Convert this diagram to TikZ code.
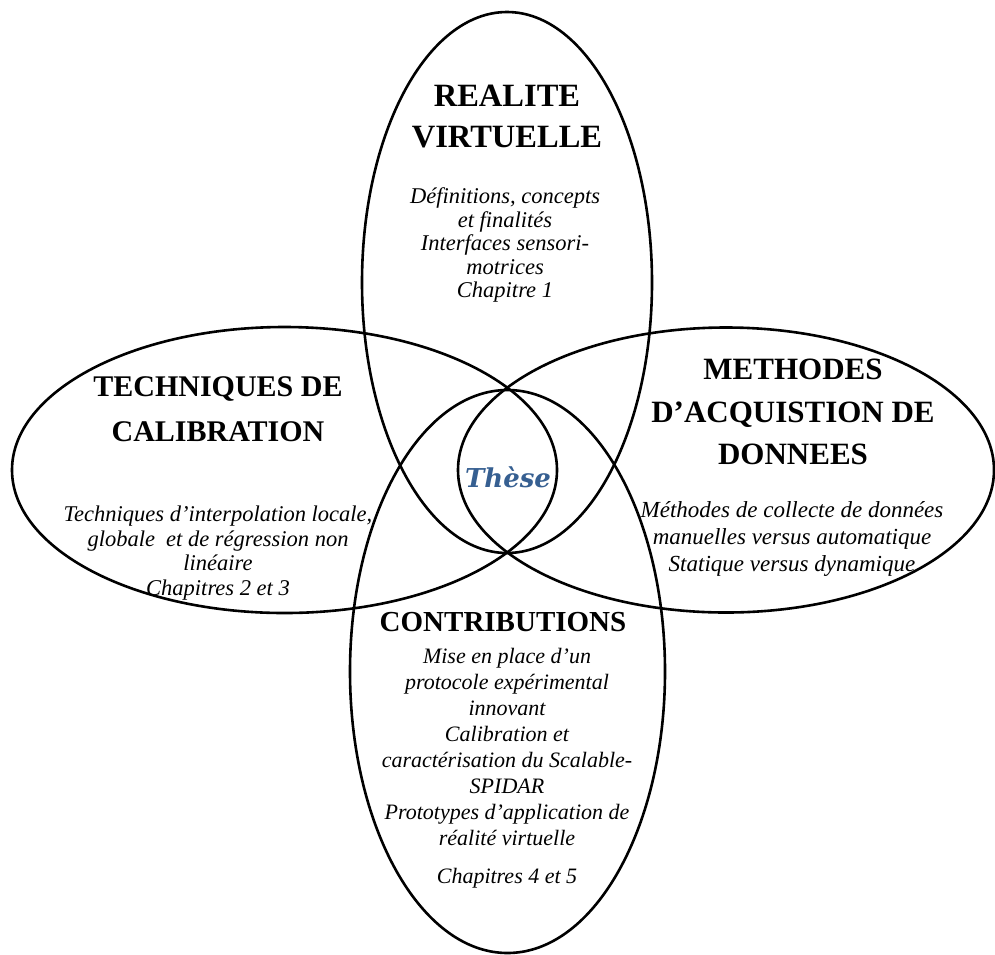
\documentclass[tikz,border=0pt]{standalone}
\usepackage{fontspec}
\setmainfont{Liberation Serif}
\newfontfamily\thesefont{DejaVu Serif}
\usetikzlibrary{shapes.geometric}
\definecolor{theseblue}{HTML}{365F91}
\begin{document}
\begin{tikzpicture}[x=1pt,y=-1pt,
  ring/.style={ellipse,draw=black,line width=2.6pt,inner sep=0pt},
  ttl/.style={font=\fontsize{31}{42.5}\selectfont\bfseries,align=center,inner sep=0pt},
  body/.style={font=\fontsize{22.5}{24.5}\selectfont\itshape,align=center,inner sep=0pt},
]
\useasboundingbox (0,0) rectangle (995,954);
% ellipses
\node[ring,minimum width=290pt,minimum height=541pt] (vr) at (507,282.5) {};
\node[ring,minimum width=545pt,minimum height=286pt] (cal) at (284.5,470) {};
\node[ring,minimum width=536pt,minimum height=285pt] (acq) at (726,470) {};
\node[ring,minimum width=315pt,minimum height=563pt] (con) at (507.5,671.5) {};
% top
\node[ttl,font=\fontsize{32.5}{41}\selectfont\bfseries] (vrt) at (507,117) {REALITE\\VIRTUELLE};
\node[body,font=\fontsize{22.5}{23.5}\selectfont\itshape] (vrb) at (505,245) {Définitions, concepts\\et finalités\\Interfaces sensori-\\motrices\\Chapitre 1};
% left
\node[ttl,font=\fontsize{30}{45}\selectfont\bfseries] (calt) at (218,409) {TECHNIQUES DE\\CALIBRATION};
\node[body] (calb) at (218,553) {Techniques d’interpolation locale,\\globale\ \ et de régression non\\linéaire\\Chapitres 2 et 3};
% right
\node[ttl] (acqt) at (793,412) {METHODES\\D’ACQUISTION DE\\DONNEES};
\node[body,font=\fontsize{23}{27}\selectfont\itshape] (acqb) at (792,539) {Méthodes de collecte de données\\manuelles versus automatique\\Statique versus dynamique};
% bottom
\node[ttl,font=\fontsize{29}{35}\selectfont\bfseries] (cont) at (503,622) {CONTRIBUTIONS};
\node[body,font=\fontsize{22}{26}\selectfont\itshape,anchor=north] (conb) at (507,648) {Mise en place d’un\\protocole expérimental\\innovant\\Calibration et\\caractérisation du Scalable-\\SPIDAR\\Prototypes d’application de\\réalité virtuelle\\[12pt]Chapitres 4 et 5};
% centre
\node[font=\thesefont\fontsize{26}{30}\selectfont\bfseries\itshape,text=theseblue,inner sep=0pt] (these) at (508,477) {Thèse};
\end{tikzpicture}
\end{document}
